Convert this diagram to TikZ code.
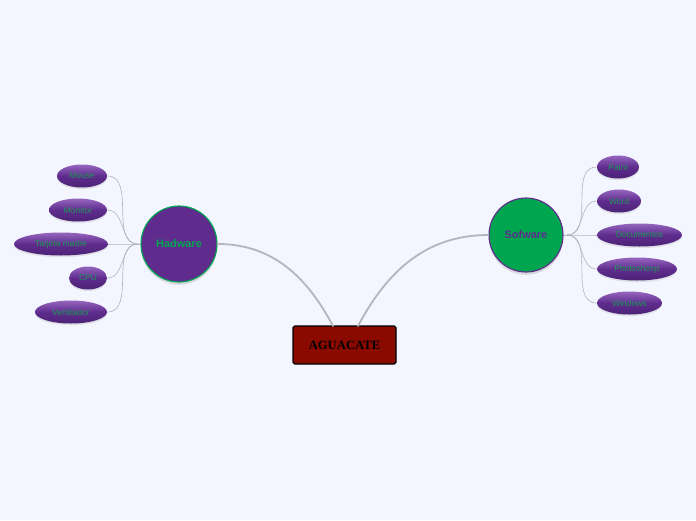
\documentclass[tikz,border=0pt]{standalone}
\usepackage{fontspec}
\setmainfont{Liberation Serif}
\setsansfont{Liberation Sans}
\usepackage{tikz}
\usetikzlibrary{shapes.geometric, shadows}

\definecolor{fondo}{HTML}{F3F6FE}
\definecolor{rojoosc}{HTML}{8A0A00}
\definecolor{morado}{HTML}{5F2C8E}
\definecolor{moradoclaro}{HTML}{9565BE}
\definecolor{moradooscuro}{HTML}{4B2275}
\definecolor{verde}{HTML}{00A550}
\definecolor{verdetexto}{HTML}{1A9A52}
\definecolor{linea}{HTML}{B4B6BE}

\newcommand{\pxu}{0.025cm}

\tikzset{
  raiz/.style={draw=black, line width=0.9pt, rounded corners=1.2pt, fill=rojoosc,
    minimum width=103*\pxu, minimum height=38*\pxu, inner sep=0pt,
    font=\fontsize{9}{10}\selectfont\bfseries},
  rama/.style={circle, line width=0.8pt, minimum size=#1*\pxu, inner sep=0pt,
    font=\sffamily\fontsize{7.8}{9}\selectfont\bfseries,
    drop shadow={shadow xshift=0pt, shadow yshift=-2pt, opacity=0.25}},
  hoja/.style={ellipse, minimum width=#1*\pxu, minimum height=23*\pxu, inner sep=0pt,
    top color=moradoclaro, bottom color=moradooscuro, middle color=morado,
    text=verdetexto, font=\sffamily\fontsize{6}{7}\selectfont,
    drop shadow={shadow xshift=0pt, shadow yshift=-1.2pt, opacity=0.18}},
  enlace/.style={draw=linea, line width=0.45pt},
  tronco/.style={draw=linea, line width=1.3pt, line cap=round}
}

\begin{document}
\begin{tikzpicture}[x=\pxu, y=-\pxu]
\fill[fondo] (0,0) rectangle (696,520);
\useasboundingbox (0,0) rectangle (696,520);

% centro
\node[raiz] (agua) at (344.5,345) {AGUACATE};

% ramas
\node[rama=76, fill=morado, draw=verde, text=verde] (hard) at (179,244) {Hadware};
\node[rama=74, fill=verde, draw=morado, text=morado] (soft) at (526,235) {Sofware};

\coordinate (a1) at (333,326);
\coordinate (a2) at (358,326);
\draw[tronco] (a1) to[out=118,in=0] (hard.east);
\draw[tronco] (a2) to[out=62,in=180] (soft.west);

% hojas de hardware
\node[hoja=50] (mouse) at (82,176) {Mouse};
\node[hoja=58] (monitor) at (78,210) {Monitor};
\node[hoja=94] (tarjeta) at (61,244) {Tarjeta madre};
\node[hoja=38] (cpu) at (88,278) {CPU};
\node[hoja=72] (vent) at (71,312) {Ventilador};

\coordinate (hh) at (138,244);
\foreach \h in {mouse, monitor, tarjeta, cpu, vent}
  \draw[enlace] (hh) to[out=180,in=0] (\h.east);
\draw[enlace] (hh) -- (hard.west);

% hojas de software
\node[hoja=42] (paint) at (618,167) {Paint};
\node[hoja=44] (word) at (619,201) {Word};
\node[hoja=85] (docs) at (639.5,235) {Documentos};
\node[hoja=80] (photo) at (637,269) {Photoshoop};
\node[hoja=65] (win) at (629.5,303) {Windows};

\coordinate (sh) at (567,235);
\foreach \s in {paint, word, docs, photo, win}
  \draw[enlace] (sh) to[out=0,in=180] (\s.west);
\draw[enlace] (soft.east) -- (sh);
\end{tikzpicture}
\end{document}
